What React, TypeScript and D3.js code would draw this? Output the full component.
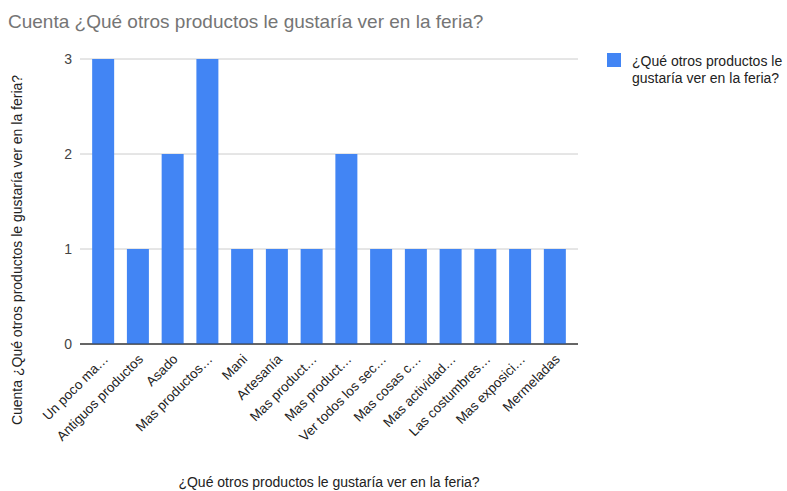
import React from "react";
import * as d3 from "d3";

const categories = [
  "Un poco ma…",
  "Antiguos productos",
  "Asado",
  "Mas productos…",
  "Mani",
  "Artesanía",
  "Mas product…",
  "Mas product…",
  "Ver todos los sec…",
  "Mas cosas c…",
  "Mas actividad…",
  "Las costumbres…",
  "Mas exposici…",
  "Mermeladas",
];
const counts = [3, 1, 2, 3, 1, 1, 1, 2, 1, 1, 1, 1, 1, 1];
const yTicks = [0, 1, 2, 3];
const title = "Cuenta ¿Qué otros productos le gustaría ver en la feria?";
const xTitle = "¿Qué otros productos le gustaría ver en la feria?";
const yTitle = "Cuenta ¿Qué otros productos le gustaría ver en la feria?";
const legendLines = ["¿Qué otros productos le", "gustaría ver en la feria?"];

const W = 787;
const H = 491;
const FONT = "Arial, 'Liberation Sans', sans-serif";
const BLUE = "#4285f4";

export default function App() {
  const x = d3
    .scaleBand<number>()
    .domain(d3.range(categories.length))
    .range([80, 578])
    .paddingInner(0.367)
    .paddingOuter(0.35);
  const y = d3.scaleLinear().domain([0, 3]).range([344, 59]);

  return (
    <svg
      width={W}
      height={H}
      style={{ position: "absolute", left: 0, top: 0, background: "#fff" }}
      fontFamily={FONT}
    >
      <rect width={W} height={H} fill="#fff" />
      <text x={8} y={28} fontSize={19} fill="#757575">
        {title}
      </text>
      {yTicks.map((t) => (
        <g key={t}>
          <line
            x1={80}
            x2={578}
            y1={y(t)}
            y2={y(t)}
            stroke={t === 0 ? "#333" : "#ccc"}
            strokeWidth={1}
          />
          <text x={72} y={y(t) + 5} fontSize={14} fill="#444" textAnchor="end">
            {t}
          </text>
        </g>
      ))}
      {counts.map((v, i) => (
        <rect
          key={i}
          x={x(i)}
          y={y(v)}
          width={x.bandwidth()}
          height={y(0) - y(v)}
          fill={BLUE}
        />
      ))}
      <line x1={80} x2={578} y1={y(0)} y2={y(0)} stroke="#333" strokeWidth={1} />
      {categories.map((c, i) => {
        const cx = (x(i) as number) + x.bandwidth() / 2;
        return (
          <text
            key={i}
            transform={`translate(${cx + 6},${360}) rotate(-45)`}
            textAnchor="end"
            fontSize={13.5}
            fill="#222"
          >
            {c}
          </text>
        );
      })}
      <text x={329} y={487} fontSize={14} fill="#222" textAnchor="middle">
        {xTitle}
      </text>
      <text
        transform={`translate(22,250) rotate(-90)`}
        fontSize={14}
        fill="#222"
        textAnchor="middle"
      >
        {yTitle}
      </text>
      <rect x={607} y={53} width={14} height={14} fill={BLUE} />
      {legendLines.map((l, i) => (
        <text key={i} x={632} y={66 + i * 17} fontSize={14} fill="#222">
          {l}
        </text>
      ))}
    </svg>
  );
}
